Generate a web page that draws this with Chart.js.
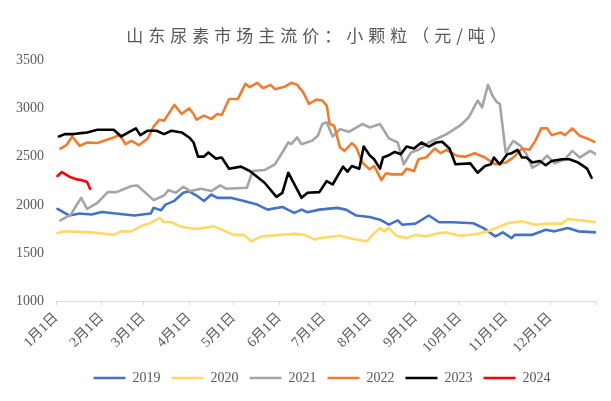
<!DOCTYPE html>
<html>
<head>
<meta charset="utf-8">
<script src="https://cdn.jsdelivr.net/npm/chart.js@4.4.1/dist/chart.umd.min.js"></script>
<style>
    html, body { margin: 0; padding: 0; background: #fff; }
    #wrap { width: 611px; height: 401px; position: relative; }
</style>
</head>
<body>
<div id="wrap"><canvas id="ureaChart"></canvas></div>
<script>
// Title and axis labels
const chartTitle = '山东尿素市场主流价：小颗粒（元/吨）';
const tickDays = [0, 31, 59, 90, 120, 151, 181, 212, 243, 273, 304, 334, 365];
const tickLabels = ['1月1日', '2月1日', '3月1日', '4月1日', '5月1日', '6月1日',
    '7月1日', '8月1日', '9月1日', '10月1日', '11月1日', '12月1日', ''];

// Day of year / price (元/吨) for each year
const days2019 = [1, 9, 16, 24, 31, 53, 64, 66, 71, 74, 80, 86, 90, 95, 100, 105, 109, 118, 127, 136, 143, 153, 161, 166, 170, 178, 190, 196, 203, 212, 219, 225, 231, 234, 243, 252, 259, 268, 282, 289, 297, 302, 308, 310, 322, 331, 337, 346, 353, 365];
const vals2019 = [1958, 1890, 1910, 1900, 1927, 1890, 1910, 1969, 1944, 2003, 2042, 2125, 2140, 2097, 2040, 2107, 2073, 2073, 2040, 2003, 1951, 1979, 1917, 1951, 1924, 1951, 1969, 1951, 1890, 1875, 1847, 1795, 1840, 1795, 1806, 1890, 1820, 1820, 1810, 1760, 1674, 1715, 1656, 1690, 1690, 1743, 1726, 1760, 1726, 1715];

const days2020 = [1, 6, 24, 39, 44, 51, 57, 64, 70, 73, 78, 84, 86, 95, 107, 120, 127, 132, 139, 153, 161, 168, 175, 178, 192, 200, 210, 214, 219, 222, 225, 230, 237, 243, 250, 259, 264, 273, 285, 292, 299, 306, 315, 324, 333, 342, 346, 355, 365];
const vals2020 = [1708, 1726, 1715, 1690, 1726, 1726, 1778, 1813, 1865, 1820, 1820, 1778, 1771, 1750, 1778, 1690, 1690, 1622, 1674, 1690, 1700, 1690, 1640, 1656, 1680, 1650, 1622, 1690, 1760, 1726, 1760, 1680, 1656, 1690, 1674, 1708, 1715, 1680, 1700, 1726, 1771, 1813, 1830, 1795, 1806, 1806, 1854, 1840, 1820];

const days2021 = [3, 10, 17, 21, 28, 35, 41, 51, 55, 66, 73, 76, 81, 86, 91, 98, 105, 111, 115, 129, 133, 141, 148, 153, 157, 159, 163, 166, 173, 177, 180, 183, 187, 192, 198, 207, 212, 219, 225, 231, 235, 240, 245, 252, 264, 273, 279, 285, 288, 292, 295, 298, 300, 304, 309, 314, 318, 322, 326, 332, 337, 344, 349, 354, 361, 365];
const vals2021 = [1840, 1900, 2073, 1958, 2021, 2132, 2132, 2195, 2200, 2049, 2097, 2153, 2125, 2187, 2143, 2167, 2143, 2201, 2167, 2177, 2351, 2361, 2420, 2542, 2646, 2628, 2698, 2628, 2663, 2715, 2837, 2854, 2708, 2784, 2757, 2837, 2802, 2837, 2688, 2646, 2420, 2542, 2570, 2646, 2733, 2820, 2906, 3080, 3010, 3243, 3132, 3063, 3045, 2542, 2663, 2611, 2524, 2385, 2420, 2510, 2430, 2472, 2559, 2490, 2559, 2524];

const days2022 = [3, 7, 11, 16, 21, 28, 39, 43, 47, 51, 56, 62, 66, 70, 73, 80, 85, 90, 93, 95, 100, 105, 109, 112, 117, 123, 128, 131, 136, 140, 145, 148, 155, 159, 163, 167, 171, 176, 180, 183, 185, 188, 192, 195, 200, 203, 207, 212, 215, 220, 223, 227, 234, 237, 242, 245, 250, 256, 260, 264, 271, 277, 283, 290, 297, 304, 309, 315, 320, 324, 328, 332, 335, 341, 344, 349, 354, 359, 364];
const vals2022 = [2583, 2618, 2708, 2611, 2646, 2640, 2698, 2726, 2628, 2663, 2618, 2688, 2812, 2882, 2871, 3035, 2941, 3000, 2941, 2882, 2924, 2889, 2941, 2931, 3097, 3097, 3253, 3219, 3264, 3208, 3243, 3198, 3226, 3264, 3243, 3167, 3045, 3090, 3080, 3028, 2837, 2820, 2594, 2559, 2640, 2594, 2438, 2368, 2403, 2257, 2326, 2316, 2316, 2375, 2350, 2472, 2490, 2583, 2535, 2570, 2507, 2500, 2535, 2490, 2420, 2438, 2490, 2583, 2570, 2663, 2792, 2792, 2722, 2750, 2722, 2792, 2715, 2688, 2653];

const days2023 = [2, 6, 12, 17, 21, 28, 39, 44, 49, 54, 57, 62, 68, 73, 78, 85, 90, 93, 96, 100, 103, 108, 112, 117, 125, 131, 141, 149, 153, 157, 160, 166, 170, 178, 183, 187, 194, 197, 200, 205, 208, 212, 215, 219, 221, 225, 229, 233, 237, 242, 247, 252, 257, 261, 266, 270, 280, 285, 290, 294, 296, 300, 305, 308, 312, 315, 318, 322, 327, 331, 335, 342, 347, 353, 359, 362];
const vals2023 = [2708, 2733, 2733, 2743, 2750, 2778, 2778, 2708, 2750, 2792, 2722, 2768, 2768, 2733, 2768, 2750, 2698, 2646, 2500, 2500, 2542, 2479, 2490, 2375, 2396, 2351, 2229, 2083, 2125, 2333, 2247, 2073, 2125, 2132, 2247, 2211, 2396, 2344, 2403, 2375, 2604, 2514, 2472, 2375, 2490, 2514, 2549, 2524, 2604, 2583, 2646, 2604, 2646, 2653, 2583, 2420, 2430, 2333, 2403, 2420, 2490, 2420, 2524, 2535, 2570, 2490, 2490, 2438, 2455, 2410, 2455, 2472, 2472, 2438, 2375, 2281];

const days2024 = [1, 4, 9, 14, 17, 21, 23];
const vals2024 = [2299, 2340, 2292, 2264, 2257, 2236, 2167];

const seriesNames = ['2019', '2020', '2021', '2022', '2023', '2024'];
const seriesDays = [days2019, days2020, days2021, days2022, days2023, days2024];
const seriesVals = [vals2019, vals2020, vals2021, vals2022, vals2023, vals2024];
const seriesColors = ['#4472C4', '#FFD966', '#A5A5A5', '#ED7D31', '#000000', '#FF0000'];

const textColor = '#595959';
const serifFont = '"Liberation Serif", "Noto Sans CJK SC", serif';

// Title drawn with letter spacing like the original
const titlePlugin = {
    id: 'spacedTitle',
    afterDraw(chart) {
        const ctx = chart.ctx;
        ctx.save();
        ctx.font = '17px "Noto Sans CJK SC", sans-serif';
        ctx.fillStyle = textColor;
        ctx.textAlign = 'center';
        ctx.textBaseline = 'middle';
        if ('letterSpacing' in ctx) ctx.letterSpacing = '5px';
        ctx.fillText(chartTitle, 319, 36);
        ctx.restore();
    }
};

// Legend sits a bit right of the canvas centre in the original
const legendShift = {
    id: 'legendShift',
    afterUpdate(chart) {
        if (chart.legend) {
            chart.legend.left += 22;
            chart.legend.right += 22;
        }
    }
};

const datasets = seriesNames.map((name, i) => ({
    label: name,
    data: seriesDays[i].map((d, j) => ({ x: d, y: seriesVals[i][j] })),
    borderColor: seriesColors[i],
    backgroundColor: seriesColors[i],
    borderWidth: 2.6,
    pointRadius: 0,
    tension: 0,
    borderCapStyle: 'round',
    borderJoinStyle: 'round',
    order: seriesNames.length - i   // later years on top
}));

new Chart(document.getElementById('ureaChart'), {
    type: 'line',
    data: { datasets: datasets },
    options: {
        responsive: true,
        maintainAspectRatio: false,
        animation: false,
        layout: {
            autoPadding: false,
            padding: { top: 60, left: 4, right: 15, bottom: 6 }
        },
        scales: {
            x: {
                type: 'linear',
                min: 0,
                max: 365,
                afterBuildTicks: function(axis) {
                    axis.ticks = tickDays.map(d => ({ value: d }));
                },
                afterFit: function(axis) {
                    // let the rotated first label hang into the margin
                    axis.paddingLeft = 0;
                    axis.paddingRight = 0;
                },
                grid: {
                    drawOnChartArea: false,
                    color: '#D9D9D9',
                    tickLength: 4
                },
                border: { color: '#D9D9D9', width: 1 },
                ticks: {
                    autoSkip: false,
                    minRotation: 45,
                    maxRotation: 45,
                    padding: 4,
                    color: textColor,
                    font: { family: serifFont, size: 14 },
                    callback: function(value) {
                        const k = tickDays.indexOf(value);
                        return k >= 0 ? tickLabels[k] : '';
                    }
                }
            },
            y: {
                min: 1000,
                max: 3500,
                grid: { display: false, drawTicks: false },
                border: { display: false },
                ticks: {
                    stepSize: 500,
                    padding: 12,
                    color: textColor,
                    font: { family: serifFont, size: 14 },
                    callback: value => String(value)
                }
            }
        },
        plugins: {
            legend: {
                position: 'bottom',
                labels: {
                    usePointStyle: true,
                    pointStyle: 'line',
                    pointStyleWidth: 32,
                    boxHeight: 14,
                    padding: 11,
                    color: textColor,
                    font: { family: serifFont, size: 14 },
                    sort: (a, b) => a.datasetIndex - b.datasetIndex
                }
            },
            title: { display: false },
            tooltip: { enabled: false }
        }
    },
    plugins: [titlePlugin, legendShift]
});
</script>
</body>
</html>
